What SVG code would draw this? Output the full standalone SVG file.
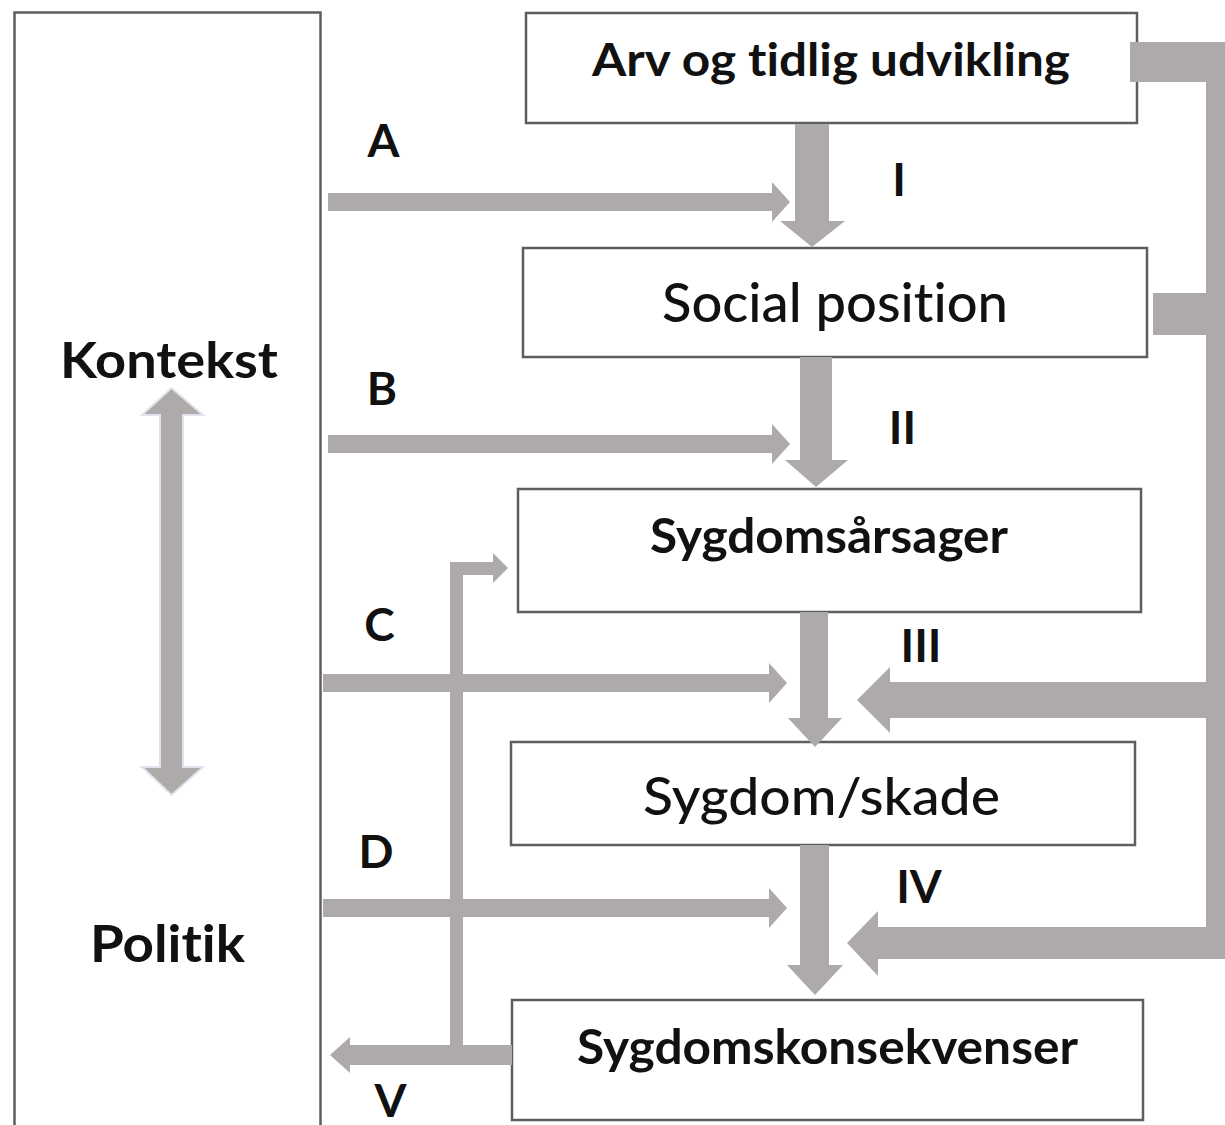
<svg xmlns="http://www.w3.org/2000/svg" width="1225" height="1125" viewBox="0 0 1225 1125">
<style>
.box{fill:#fff;stroke:#5e5e5e;stroke-width:2.5}
.arr{fill:#aeaaa9}
.t{font-family:Lato,"Open Sans","Liberation Sans",sans-serif;fill:#111;text-anchor:middle;font-variant-ligatures:none;font-feature-settings:"liga" 0}
.b{font-weight:bold}
.lbl{font-family:Lato,"Open Sans","Liberation Sans",sans-serif;fill:#111;text-anchor:middle;font-weight:bold;font-size:46px}
</style>
<rect width="1225" height="1125" fill="#fff"/>
<g id="context">
<rect class="box" x="14.5" y="12.5" width="306" height="1130"/>
<text class="t b" x="169" y="378" font-size="50" textLength="218" lengthAdjust="spacingAndGlyphs">Kontekst</text>
<text class="t b" x="167.5" y="962" font-size="51" textLength="155" lengthAdjust="spacingAndGlyphs">Politik</text>
</g>
<g id="n1">
<rect class="box" x="526" y="13" width="611" height="110"/>
<text class="t b" x="831" y="76" font-size="46" textLength="478" lengthAdjust="spacingAndGlyphs">Arv og tidlig udvikling</text>
</g>
<g id="n2">
<rect class="box" x="523" y="248" width="624" height="109"/>
<text class="t" x="835" y="322" font-size="54" textLength="346" lengthAdjust="spacingAndGlyphs" font-weight="500">Social position</text>
</g>
<g id="n3">
<rect class="box" x="518" y="489" width="623" height="123"/>
<text class="t b" x="829" y="553" font-size="47" textLength="358" lengthAdjust="spacingAndGlyphs">Sygdomsårsager</text>
</g>
<g id="n4">
<rect class="box" x="511" y="742" width="624" height="103"/>
<text class="t" x="821.5" y="815" font-size="53" textLength="357" lengthAdjust="spacingAndGlyphs" font-weight="500">Sygdom/skade</text>
</g>
<g id="n5">
<rect class="box" x="512" y="1000" width="631" height="120"/>
<text class="t b" x="827.5" y="1064" font-size="47" textLength="501" lengthAdjust="spacingAndGlyphs">Sygdomskonsekvenser</text>
</g>
<g id="connectors">
<path class="arr" d="M795,124 H829 V221 H845 L812,247 L780,221 H795 Z"/>
<path class="arr" d="M800,357 H832 V460 H848 L816,487 L785,460 H800 Z"/>
<path class="arr" d="M800,612 H828 V718 H842 L815,747 L788,718 H800 Z"/>
<path class="arr" d="M800,845 H829 V965 H843 L815,995 L787,965 H800 Z"/>
<path class="arr" d="M328,193 H772 V182 L790,202 L772,222 V211 H328 Z"/>
<path class="arr" d="M328,435 H772 V424 L790,444 L772,464 V453 H328 Z"/>
<path class="arr" d="M323,674 H769 V663 L787,683 L769,703 V692 H323 Z"/>
<path class="arr" d="M323,899 H769 V888 L787,908 L769,928 V917 H323 Z"/>
<path class="arr" d="M1130,42 H1240 V959 H878 V976 L847,943 L878,911 V927 H1206 V718 H890 V733 L857,700 L890,667 V682 H1206 V335 H1153 V293 H1206 V82 H1130 Z"/>
<path class="arr" d="M512,1045 H463 V575 H493 V583 L508,568 L493,553 V562 H450 V1045 H350 V1037 L330,1055 L350,1073 V1065 H512 Z"/>
<path class="arr" d="M160,415 H142 L171.5,388 L203,415 H183 V767 H203 L171.5,795 L142,767 H160 Z" stroke="#dfe3ee" stroke-width="2"/>
</g>
<g id="labels">
<text class="lbl" x="383.5" y="157">A</text>
<text class="lbl" x="382" y="405">B</text>
<text class="lbl" x="379.5" y="641">C</text>
<text class="lbl" x="376" y="868">D</text>
<text class="lbl" x="390.5" y="1117">V</text>
<text class="lbl" x="899" y="196">I</text>
<text class="lbl" x="902.5" y="444">II</text>
<text class="lbl" x="921" y="662">III</text>
<text class="lbl" x="919" y="903">IV</text>
</g>
</svg>
